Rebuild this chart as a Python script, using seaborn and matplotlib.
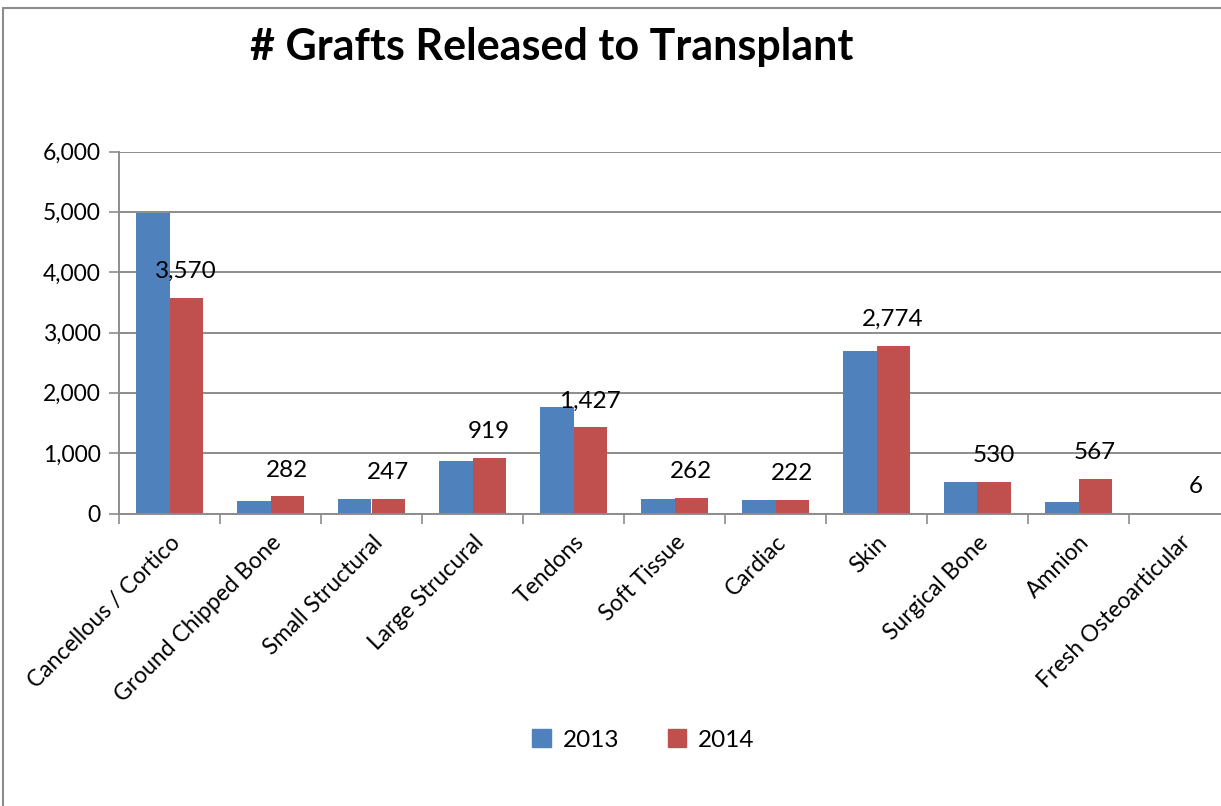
import numpy as np
import pandas as pd
import seaborn as sns
import matplotlib
matplotlib.use("Agg")
import matplotlib.pyplot as plt
from matplotlib.patches import Rectangle

# values (2013, 2014 from labels)
categories = ["Cancellous / Cortico", "Ground Chipped Bone", "Small Structural",
              "Large Strucural", "Tendons", "Soft Tissue", "Cardiac", "Skin",
              "Surgical Bone", "Amnion", "Fresh Osteoarticular"]
grafts_2013 = [4980, 210, 235, 875, 1760, 245, 230, 2690, 525, 185, 0]
grafts_2014 = [3570, 282, 247, 919, 1427, 262, 222, 2774, 530, 567, 6]
years = ["2013", "2014"]
colors = ["#4F81BD", "#C0504D"]

df = pd.DataFrame({
    "category": categories * 2,
    "year": [years[0]] * len(categories) + [years[1]] * len(categories),
    "grafts": grafts_2013 + grafts_2014,
})

sns.set_theme(style="white")
plt.rcParams["font.family"] = ["Lato", "DejaVu Sans"]
plt.rcParams["text.color"] = "black"
plt.rcParams["xtick.color"] = "black"
plt.rcParams["ytick.color"] = "black"

W, H = 1221, 806
fig = plt.figure(figsize=(W / 100, H / 100), dpi=100)
ax = fig.add_axes([119 / W, (H - 513.5) / H, 1111 / W, 362 / H])

sns.barplot(data=df, x="category", y="grafts", hue="year", order=categories,
            hue_order=years, palette=colors, width=0.66, gap=0,
            saturation=1, edgecolor="none", legend=False, ax=ax)

ax.set_xlim(-0.5, len(categories) - 0.5)
ax.set_ylim(0, 6000)
ax.set_yticks(np.arange(0, 6001, 1000))
ax.set_yticklabels([f"{v:,}" for v in range(0, 6001, 1000)], fontsize=16.5)
ax.yaxis.grid(True, color="#8c8c8c", linewidth=1.4)
ax.set_axisbelow(True)
ax.tick_params(axis="y", length=7, width=1.2, color="#8c8c8c", labelcolor="black",
               pad=6, left=True)

ax.set_xticks(np.arange(len(categories)))
ax.set_xticklabels(categories, rotation=45, ha="right", rotation_mode="anchor", fontsize=16.5)
ax.set_xticks(np.arange(-0.5, len(categories)), minor=True)
ax.tick_params(axis="x", which="major", length=0, pad=13, labelcolor="black")
ax.tick_params(axis="x", which="minor", length=7, width=1.2, color="#8c8c8c", bottom=True)
ax.set_xlabel("")
ax.set_ylabel("")

for side in ["top", "right"]:
    ax.spines[side].set_visible(False)
for side in ["left", "bottom"]:
    ax.spines[side].set_color("#8c8c8c")
    ax.spines[side].set_linewidth(1.4)

# data labels for 2014 bars
red_bars = ax.containers[1]
for bar, val in zip(red_bars, grafts_2014):
    ax.annotate(f"{val:,}", (bar.get_x() + bar.get_width() / 2, bar.get_height()),
                xytext=(0, 19), textcoords="offset points", ha="center", va="center",
                fontsize=17.5, color="black")

fig.text(552 / W, 1 - 47 / H, "# Grafts Released to Transplant", ha="center",
         va="center", fontsize=31, fontweight="bold", color="black")

handles = [Rectangle((0, 0), 1, 1, color=c) for c in colors]
fig.legend(handles, years, loc="center", bbox_to_anchor=(0.527, 1 - 740 / H),
           ncol=2, frameon=False, fontsize=17.5, handlelength=0.75, handleheight=0.75,
           handletextpad=0.5, columnspacing=2.0)

# chart frame
fig.patches.append(Rectangle((3 / W, -0.1), 1.2, 1.1 - 8 / H, transform=fig.transFigure,
                             fill=False, edgecolor="#8c8c8c", linewidth=1.5))

fig.savefig("out.png", dpi=100)
